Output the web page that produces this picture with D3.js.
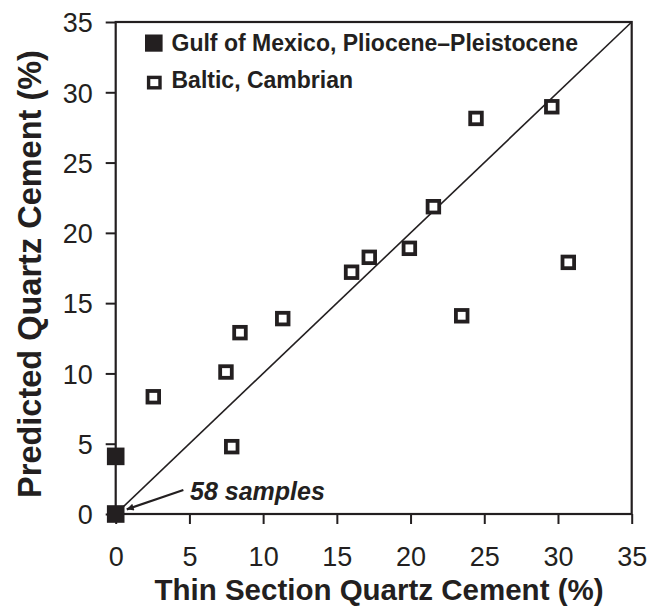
<!DOCTYPE html>
<html>
<head>
<meta charset="utf-8">
<script src="https://cdn.jsdelivr.net/npm/d3@7"></script>
<style>
  body { margin: 0; background: #fff; }
  svg { display: block; font-family: "Liberation Sans", Arial, Helvetica, sans-serif; }
</style>
</head>
<body>
<svg id="chart" width="663" height="607"></svg>
<script>
// data
const gulfX = [0, 0];
const gulfY = [0, 4.1];
const balticX = [2.55, 7.48, 7.87, 8.43, 11.33, 16.0, 17.2, 19.92, 21.55, 23.47, 24.44, 29.58, 30.7];
const balticY = [8.34, 10.1, 4.79, 12.9, 13.9, 17.2, 18.26, 18.9, 21.86, 14.1, 28.14, 28.97, 17.9];
const tickValues = [0, 5, 10, 15, 20, 25, 30, 35];
const legendLabels = ["Gulf of Mexico, Pliocene\u2013Pleistocene", "Baltic, Cambrian"];

const ink = "#231f20";
let chart = d3.select("#chart");

let x = d3.scaleLinear().domain([0, 35]).range([115.7, 631.7]);
let y = d3.scaleLinear().domain([0, 35]).range([514, 22]);

// 1:1 line
chart.append("line")
    .attr("x1", x(0)).attr("y1", y(0))
    .attr("x2", x(35)).attr("y2", y(35))
    .attr("stroke", ink)
    .attr("stroke-width", 1.6);

// axes
let xAxis = d3.axisBottom(x).tickValues(tickValues).tickSize(10).tickSizeOuter(0);
let xg = chart.append("g")
    .attr("transform", "translate(0," + y(0) + ")")
    .call(xAxis);
xg.select(".domain").remove();
xg.selectAll("line").attr("stroke", ink).attr("stroke-width", 2);
xg.selectAll("text")
    .attr("y", 51.5).attr("dy", null)
    .attr("fill", ink)
    .style("font-size", "27px");

let yAxis = d3.axisLeft(y).tickValues(tickValues).tickSize(10).tickSizeOuter(0);
let yg = chart.append("g")
    .attr("transform", "translate(" + x(0) + ",0)")
    .call(yAxis);
yg.select(".domain").remove();
yg.selectAll("line").attr("stroke", ink).attr("stroke-width", 2);
yg.selectAll("text")
    .attr("x", -23).attr("dy", "0.36em")
    .attr("fill", ink)
    .style("font-size", "27px");

// frame
chart.append("rect")
    .attr("x", x(0)).attr("y", y(35))
    .attr("width", x(35) - x(0))
    .attr("height", y(0) - y(35))
    .attr("fill", "none")
    .attr("stroke", ink)
    .attr("stroke-width", 2.2);

// axis titles
chart.append("text")
    .text("Thin Section Quartz Cement (%)")
    .attr("x", 379)
    .attr("y", 599.5)
    .attr("text-anchor", "middle")
    .attr("font-weight", "bold")
    .style("font-size", "29.5px")
    .attr("fill", ink);

chart.append("text")
    .text("Predicted Quartz Cement (%)")
    .attr("transform", "translate(41,274) rotate(-90)")
    .attr("text-anchor", "middle")
    .attr("font-weight", "bold")
    .style("font-size", "32.5px")
    .attr("fill", ink);

// baltic points (open squares)
chart.selectAll("rect.baltic")
  .data(balticX)
  .enter()
  .append("rect")
    .attr("class", "baltic")
    .attr("x", function(d) { return x(d) - 5.8; })
    .attr("y", function(d, i) { return y(balticY[i]) - 5.8; })
    .attr("width", 11.6)
    .attr("height", 11.6)
    .attr("fill", "#fff")
    .attr("stroke", ink)
    .attr("stroke-width", 3.8);

// gulf points (filled squares)
chart.selectAll("rect.gulf")
  .data(gulfX)
  .enter()
  .append("rect")
    .attr("class", "gulf")
    .attr("x", function(d) { return x(d) - 8.8; })
    .attr("y", function(d, i) { return y(gulfY[i]) - 8.8; })
    .attr("width", 17.6)
    .attr("height", 17.6)
    .attr("fill", ink);

// legend
chart.append("rect")
    .attr("x", 145).attr("y", 34.5)
    .attr("width", 17.6).attr("height", 17.2)
    .attr("fill", ink);
chart.append("rect")
    .attr("x", 148.6).attr("y", 77.4)
    .attr("width", 11.4).attr("height", 10.4)
    .attr("fill", "#fff")
    .attr("stroke", ink)
    .attr("stroke-width", 3.4);
chart.selectAll("text.legend")
  .data(legendLabels)
  .enter()
  .append("text")
    .attr("class", "legend")
    .text(function(d) { return d; })
    .attr("x", 171.5)
    .attr("y", function(d, i) { return 50.5 + i * 37.5; })
    .attr("font-weight", "bold")
    .style("font-size", "23px")
    .attr("fill", ink);

// annotation
chart.append("defs").append("marker")
    .attr("id", "arrow")
    .attr("viewBox", "0 0 10 10")
    .attr("refX", 10).attr("refY", 5)
    .attr("markerWidth", 9).attr("markerHeight", 7)
    .attr("markerUnits", "userSpaceOnUse")
    .attr("orient", "auto")
  .append("path")
    .attr("d", "M0,0 L10,5 L0,10 z")
    .attr("fill", ink);
chart.append("line")
    .attr("x1", x(4.59)).attr("y1", y(1.71))
    .attr("x2", x(0.75)).attr("y2", y(0.33))
    .attr("stroke", ink)
    .attr("stroke-width", 2.2)
    .attr("marker-end", "url(#arrow)");
chart.append("text")
    .text("58 samples")
    .attr("x", x(5.04))
    .attr("y", y(1.0))
    .attr("font-weight", "bold")
    .attr("font-style", "italic")
    .style("font-size", "25px")
    .attr("fill", ink);
</script>
</body>
</html>
